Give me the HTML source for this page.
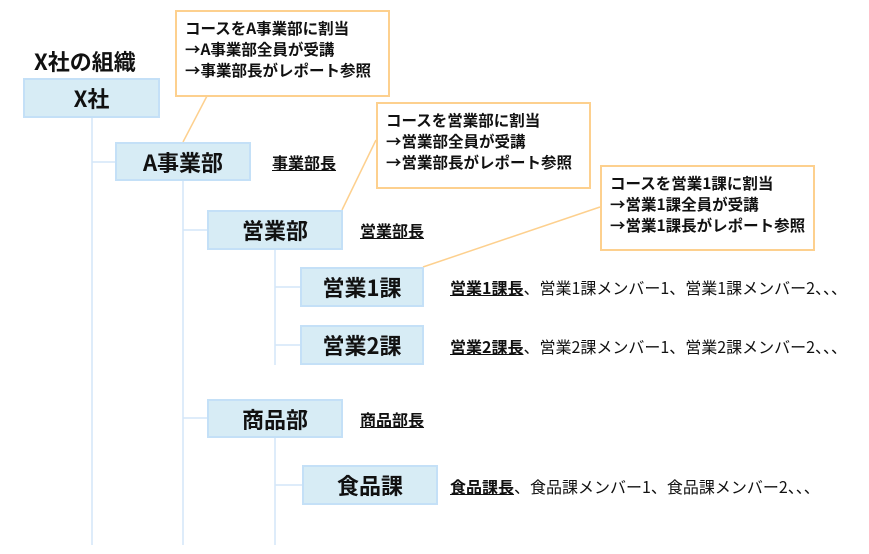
<!DOCTYPE html>
<html><head><meta charset="utf-8"><style>
body{margin:0;width:869px;height:554px;background:#fff;position:relative;overflow:hidden;font-family:"Noto Sans CJK JP","Liberation Sans",sans-serif;color:#111}
.b{position:absolute;background:#d7ecf5;border:2px solid #c4e0f7;box-sizing:border-box;font-weight:bold;font-size:22px;display:flex;align-items:center;justify-content:center}
.c{position:absolute;border:2px solid #fdd08e;background:#fff;box-sizing:border-box;font-weight:bold;font-size:15.5px;line-height:21px;padding:6px 0 0 8px;white-space:nowrap}
.t{position:absolute;font-size:16px;line-height:20px;white-space:nowrap}
.t u{font-weight:bold}
</style></head><body>
<svg width="869" height="554" style="position:absolute;left:0;top:0">
<g stroke="#d3e6f9" stroke-width="1.5" fill="none">
<path d="M92 117V545M92 162H115M183 180V545M183 230H207M183 418H207M275 249V365M275 287H300M275 345H300M275 437V545M275 485H302"/>
</g>
<g stroke="#fdd08e" stroke-width="1.5">
<line x1="207" y1="96" x2="183" y2="142"/>
<line x1="376" y1="140" x2="342" y2="210"/>
<line x1="600" y1="207" x2="423" y2="267"/>
</g>
</svg>
<div class="t" style="left:34px;top:48px;font-size:22px;line-height:26px;font-weight:bold">X社の組織</div>
<div class="b" style="left:23px;top:78px;width:137px;height:40px">X社</div>
<div class="b" style="left:115px;top:142px;width:136px;height:39px">A事業部</div>
<div class="b" style="left:207px;top:210px;width:136px;height:40px">営業部</div>
<div class="b" style="left:300px;top:267px;width:124px;height:40px">営業1課</div>
<div class="b" style="left:300px;top:325px;width:124px;height:40px">営業2課</div>
<div class="b" style="left:207px;top:399px;width:136px;height:39px">商品部</div>
<div class="b" style="left:302px;top:465px;width:136px;height:40px">食品課</div>
<div class="t" style="left:272px;top:152px"><u>事業部長</u></div>
<div class="t" style="left:360px;top:220px"><u>営業部長</u></div>
<div class="t" style="left:450px;top:277px"><u>営業1課長</u>、営業1課メンバー1、営業1課メンバー2、、、</div>
<div class="t" style="left:450px;top:336px"><u>営業2課長</u>、営業2課メンバー1、営業2課メンバー2、、、</div>
<div class="t" style="left:360px;top:409px"><u>商品部長</u></div>
<div class="t" style="left:450px;top:476px"><u>食品課長</u>、食品課メンバー1、食品課メンバー2、、、</div>
<div class="c" style="left:175px;top:10px;width:215px;height:87px">コースをA事業部に割当<br>→A事業部全員が受講<br>→事業部長がレポート参照</div>
<div class="c" style="left:376px;top:102px;width:215px;height:87px">コースを営業部に割当<br>→営業部全員が受講<br>→営業部長がレポート参照</div>
<div class="c" style="left:600px;top:165px;width:215px;height:86px">コースを営業1課に割当<br>→営業1課全員が受講<br>→営業1課長がレポート参照</div>
</body></html>
